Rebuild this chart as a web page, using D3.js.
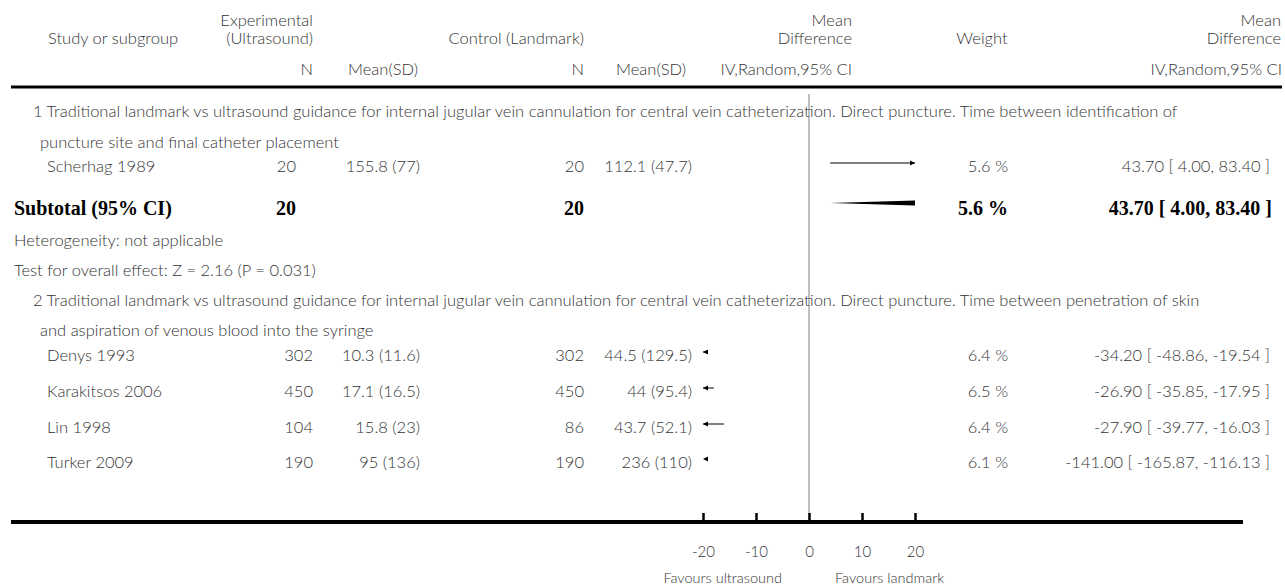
<!DOCTYPE html>
<html>
<head>
<meta charset="utf-8">
<script src="https://cdn.jsdelivr.net/npm/d3@7"></script>
<style>
  body { margin: 0; background: #fff; }
  text { font-family: Lato, "Open Sans", sans-serif; font-size: 16.5px; font-weight: 300; fill: #333; }
  .bold { font-family: "Liberation Serif", serif; font-weight: bold; font-size: 20px; fill: #000; }
  .small { font-size: 14.5px; }
</style>
</head>
<body>
<div id="forest"></div>
<script>
// data
var studies = ["Scherhag 1989", "Denys 1993", "Karakitsos 2006", "Lin 1998", "Turker 2009"];
var groupOf = [1, 2, 2, 2, 2];
var expN = [20, 302, 450, 104, 190];
var expMeanSD = ["155.8 (77)", "10.3 (11.6)", "17.1 (16.5)", "15.8 (23)", "95 (136)"];
var ctlN = [20, 302, 450, 86, 190];
var ctlMeanSD = ["112.1 (47.7)", "44.5 (129.5)", "44 (95.4)", "43.7 (52.1)", "236 (110)"];
var weights = [5.6, 6.4, 6.5, 6.4, 6.1];
var meanDiff = [43.70, -34.20, -26.90, -27.90, -141.00];
var ciLow = [4.00, -48.86, -35.85, -39.77, -165.87];
var ciHigh = [83.40, -19.54, -17.95, -16.03, -116.13];

var subtotal = { expN: 20, ctlN: 20, weight: 5.6, md: 43.70, lo: 4.00, hi: 83.40 };

var groupTitles = [
  ["1 Traditional landmark vs ultrasound guidance for internal jugular vein cannulation for central vein catheterization. Direct puncture. Time between identification of",
   "puncture site and final catheter placement"],
  ["2 Traditional landmark vs ultrasound guidance for internal jugular vein cannulation for central vein catheterization. Direct puncture. Time between penetration of skin",
   "and aspiration of venous blood into the syringe"]
];
var ticks = [-20, -10, 0, 10, 20];

// set up SVG
var svgWidth = 1285;
var svgHeight = 588;

var svg = d3.select("#forest")
  .append("svg")
  .attr("width", svgWidth)
  .attr("height", svgHeight);

var x = d3.scaleLinear()
  .domain([-20, 20])
  .range([703, 915]);

// column anchors
var col = {
  name: 47, title: 33, title2: 40,
  expMean: 420, ctlN: 584, ctlMean: 692,
  weight: 1008, md: 1270
};
// the N column sits a bit further left in the first subgroup
var expNAnchor = { 1: 296, 2: 313 };

// row positions
var rowY = [166, 355, 391, 427, 462];
var subtotalY = 208;

function txt(g, xPos, y, s, anchor, cls) {
  return g.append("text")
    .attr("x", xPos)
    .attr("y", y)
    .attr("dy", "0.35em")
    .attr("text-anchor", anchor || "start")
    .attr("class", cls || null)
    .text(s);
}

// header
txt(svg, 48, 38, "Study or subgroup");
txt(svg, 313, 20, "Experimental", "end");
txt(svg, 313, 38, "(Ultrasound)", "end");
txt(svg, 584, 38, "Control (Landmark)", "end");
txt(svg, 852, 20, "Mean", "end");
txt(svg, 852, 38, "Difference", "end");
txt(svg, 982, 38, "Weight", "middle");
txt(svg, 1281, 20, "Mean", "end");
txt(svg, 1281, 38, "Difference", "end");

txt(svg, 313, 69, "N", "end");
txt(svg, 348, 69, "Mean(SD)");
txt(svg, 584, 69, "N", "end");
txt(svg, 616, 69, "Mean(SD)");
txt(svg, 852, 69, "IV,Random,95% CI", "end");
txt(svg, 1282, 69, "IV,Random,95% CI", "end");

svg.append("line")
  .attr("x1", 11).attr("x2", 1282)
  .attr("y1", 87).attr("y2", 87)
  .attr("stroke", "#000")
  .attr("stroke-width", 3);

// zero line
svg.append("line")
  .attr("x1", x(0)).attr("x2", x(0))
  .attr("y1", 94).attr("y2", 522)
  .attr("stroke", "#aaa")
  .attr("stroke-width", 1.5);

// group titles
var titleY = [[111, 142], [300, 330]];
groupTitles.forEach(function (t, i) {
  txt(svg, col.title, titleY[i][0], t[0]);
  txt(svg, col.title2, titleY[i][1], t[1]);
});

// plain hyphen for negatives, like the reference
function fmt(v) { return v.toFixed(2); }

studies.forEach(function (s, i) {
  var y = rowY[i];
  txt(svg, col.name, y, s);
  txt(svg, expNAnchor[groupOf[i]], y, expN[i], "end");
  txt(svg, col.expMean, y, expMeanSD[i], "end");
  txt(svg, col.ctlN, y, ctlN[i], "end");
  txt(svg, col.ctlMean, y, ctlMeanSD[i], "end");
  txt(svg, col.weight, y, weights[i].toFixed(1) + " %", "end");
  txt(svg, col.md, y, fmt(meanDiff[i]) + " [ " + fmt(ciLow[i]) + ", " + fmt(ciHigh[i]) + " ]", "end");
});

// confidence interval lines, clipped to the axis range with arrows
var dmin = x.domain()[0], dmax = x.domain()[1];
studies.forEach(function (s, i) {
  var y = rowY[i] - 3;
  var a = Math.max(ciLow[i], dmin), b = Math.min(ciHigh[i], dmax);
  if (a < b) {
    svg.append("line")
      .attr("x1", x(a)).attr("x2", x(b))
      .attr("y1", y).attr("y2", y)
      .attr("stroke", "#000")
      .attr("stroke-width", 1);
  }
  if (ciLow[i] < dmin) {
    var xl = x(dmin);
    svg.append("path")
      .attr("d", `M${xl},${y} L${xl + 5},${y - 2.5} L${xl + 5},${y + 2.5} Z`)
      .attr("fill", "#000");
  }
  if (ciHigh[i] > dmax) {
    var xr = x(dmax);
    svg.append("path")
      .attr("d", `M${xr},${y} L${xr - 5},${y - 2.5} L${xr - 5},${y + 2.5} Z`)
      .attr("fill", "#000");
  }
});

// subtotal row
txt(svg, 14, subtotalY, "Subtotal (95% CI)", "start", "bold");
txt(svg, 296, subtotalY, subtotal.expN, "end", "bold");
txt(svg, col.ctlN, subtotalY, subtotal.ctlN, "end", "bold");
txt(svg, col.weight, subtotalY, subtotal.weight.toFixed(1) + " %", "end", "bold");
txt(svg, col.md + 2, subtotalY, fmt(subtotal.md) + " [ " + fmt(subtotal.lo) + ", " + fmt(subtotal.hi) + " ]", "end", "bold");

svg.append("clipPath").attr("id", "plotClip")
  .append("rect")
  .attr("x", x(dmin)).attr("y", 90)
  .attr("width", x(dmax) - x(dmin)).attr("height", 430);

var dy = subtotalY - 5, h = 6;
svg.append("path")
  .attr("clip-path", "url(#plotClip)")
  .attr("d", `M${x(subtotal.lo)},${dy} L${x(subtotal.md)},${dy - h} L${x(subtotal.hi)},${dy} L${x(subtotal.md)},${dy + h} Z`)
  .attr("fill", "#000");

txt(svg, 14, 240, "Heterogeneity: not applicable");
txt(svg, 14, 270, "Test for overall effect: Z = 2.16 (P = 0.031)");

// bottom axis
svg.append("line")
  .attr("x1", 11).attr("x2", 1243)
  .attr("y1", 522).attr("y2", 522)
  .attr("stroke", "#000")
  .attr("stroke-width", 4);

var axis = d3.axisTop(x)
  .tickValues(ticks)
  .tickSize(7)
  .tickFormat(d => d < 0 ? "-" + Math.abs(d) : String(d));

var axisG = svg.append("g")
  .attr("transform", "translate(0,520)")
  .call(axis);
axisG.select(".domain").remove();
axisG.selectAll(".tick line").attr("stroke", "#000").attr("stroke-width", 2.5);
axisG.selectAll(".tick text")
  .attr("y", 32)
  .attr("dy", "0.35em")
  .style("font-family", "Lato, sans-serif")
  .style("font-size", "15px")
  .style("font-weight", 300)
  .attr("fill", "#333");

txt(svg, 782, 578, "Favours ultrasound", "end", "small");
txt(svg, 835, 578, "Favours landmark", "start", "small");
</script>
</body>
</html>
